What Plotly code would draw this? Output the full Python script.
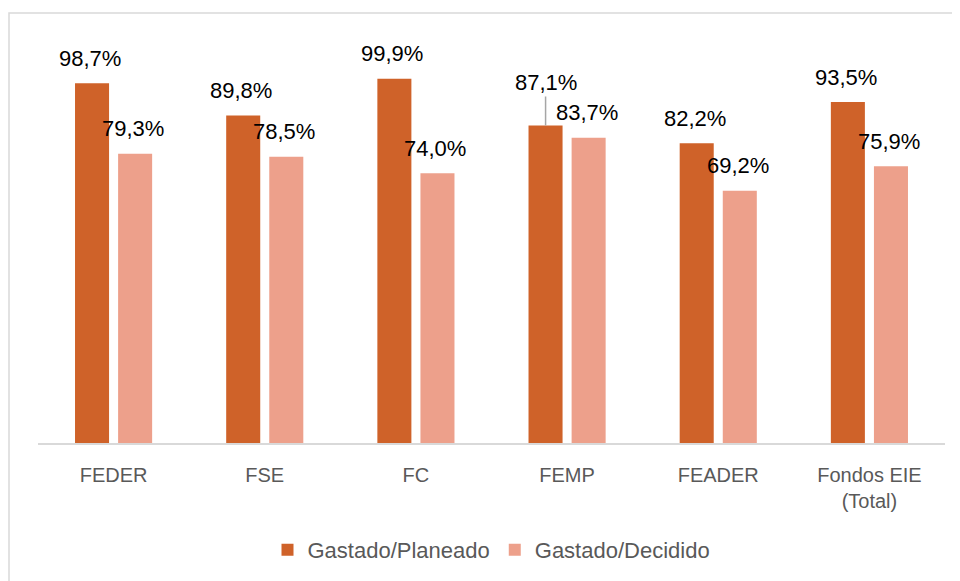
import plotly.graph_objects as go

categories = ["FEDER", "FSE", "FC", "FEMP", "FEADER", "Fondos EIE<br>(Total)"]
gastado_planeado = [98.7, 89.8, 99.9, 87.1, 82.2, 93.5]
gastado_decidido = [79.3, 78.5, 74.0, 83.7, 69.2, 75.9]
series_names = ["Gastado/Planeado", "Gastado/Decidido"]
colors = ["#CF6229", "#EDA08B"]

def fmt(v):
    return f"{v:.1f}%".replace(".", ",")

fig = go.Figure()
for name, vals, col in zip(series_names, [gastado_planeado, gastado_decidido], colors):
    fig.add_trace(go.Bar(name=name, x=categories, y=vals, marker_color=col,
                         marker_line_width=0, hoverinfo="skip"))

FONT = "Liberation Sans, Arial, sans-serif"
ann = []
for k, vals in enumerate([gastado_planeado, gastado_decidido]):
    shift = -21.5 if k == 0 else 21.5
    for c, v in zip(categories, vals):
        if k == 0 and c == "FEMP":
            ann.append(dict(x=c, y=v, xref="x", yref="y", text=fmt(v), xshift=shift,
                            showarrow=True, arrowhead=0, arrowwidth=1.5, arrowcolor="#A6A6A6",
                            ax=0, ay=-43, standoff=0,
                            font=dict(size=22, color="#000000", family=FONT)))
        else:
            ann.append(dict(x=c, y=v, xref="x", yref="y", text=fmt(v), showarrow=False,
                            xshift=shift - 2, yshift=25, yanchor="middle",
                            font=dict(size=22, color="#000000", family=FONT)))

# page body has an 8px margin, so margins are offset to compensate
fig.update_layout(
    width=960, height=581,
    margin=dict(l=30, r=23, t=27, b=146),
    paper_bgcolor="white", plot_bgcolor="white",
    barmode="group", bargap=0.43, bargroupgap=0.21,
    showlegend=True,
    legend=dict(orientation="h", x=0.5, xanchor="center", y=-0.262, yanchor="middle",
                font=dict(size=22, color="#595959", family=FONT),
                itemsizing="constant", traceorder="normal"),
    annotations=ann,
    shapes=[dict(type="rect", xref="paper", yref="paper",
                 x0=(9 - 38) / 907, x1=(962 - 38) / 907,
                 y0=(443 - 583) / 408, y1=(443 - 13) / 408,
                 line=dict(color="#D9D9D9", width=1.5), fillcolor="rgba(0,0,0,0)", layer="below")],
)
fig.update_xaxes(showline=True, linecolor="#D9D9D9", linewidth=2, ticks="", showgrid=False,
                 tickfont=dict(size=20, color="#595959", family=FONT), ticklabelstandoff=13)
fig.update_yaxes(range=[0, 111.9], visible=False, showgrid=False, zeroline=False)

fig.write_html("out.html")
